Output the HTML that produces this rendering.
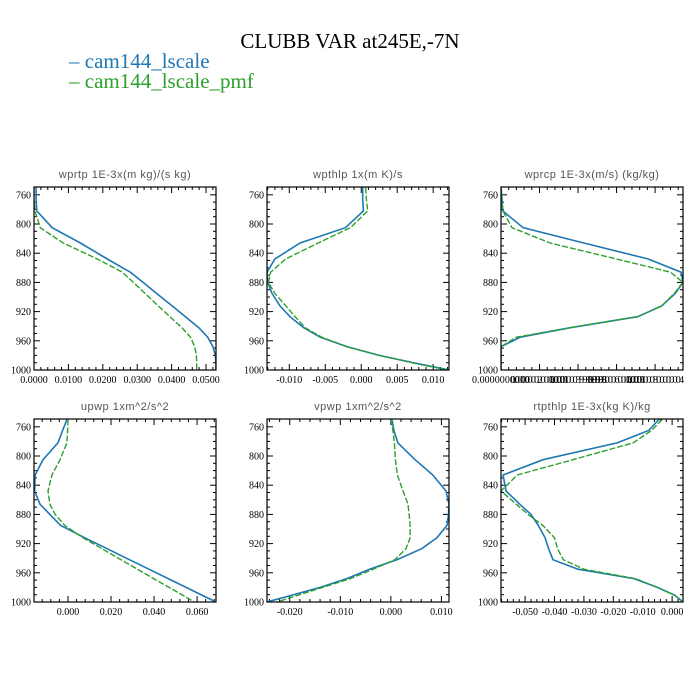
<!DOCTYPE html>
<html><head><meta charset="utf-8"><style>
body{margin:0;background:#fff;width:700px;height:700px;overflow:hidden}
svg{display:block}
.tl{font-family:"Liberation Sans",sans-serif;font-size:11px;fill:#555;letter-spacing:0.5px}
.tk{font-family:"Liberation Serif",serif;font-size:10px;fill:#000}
</style></head><body>
<svg id="chart" width="700" height="700" xmlns="http://www.w3.org/2000/svg">
<text x="350" y="48" text-anchor="middle" font-family="Liberation Serif,serif" font-size="21">CLUBB VAR at245E,-7N</text>
<g>
<g><text x="69" y="68" font-family="Liberation Serif,serif" font-size="21" fill="#1f77b4">– cam144_lscale</text></g>
<g><text x="69" y="88" font-family="Liberation Serif,serif" font-size="21" fill="#2ca02c">– cam144_lscale_pmf</text></g>
</g>
</svg>
<script>
const levels=[750,765,782,805,826,848,866,880,895,912,927,942,955,968,980,991,1000];
const yTicks=[760,800,840,880,920,960,1000];
const titles=["wprtp  1E-3x(m kg)/(s kg)","wpthlp  1x(m K)/s","wprcp  1E-3x(m/s) (kg/kg)","upwp  1xm^2/s^2","vpwp  1xm^2/s^2","rtpthlp  1E-3x(kg K)/kg"];
const wprtpBlue=[0.0006,0.0006,0.0008,0.0053,0.0135,0.0213,0.0280,0.0317,0.0356,0.0401,0.0440,0.0479,0.0505,0.0520,0.0527,0.0529,0.0529];
const wprtpGreen=[0.0,0.0,0.0003,0.0018,0.0085,0.0184,0.0257,0.0289,0.0323,0.0361,0.0395,0.0430,0.0455,0.0467,0.0472,0.0473,0.0473];
const wpthlpBlue=[0.0002,0.0002,0.0003,-0.0022,-0.0085,-0.0120,-0.0131,-0.0130,-0.0124,-0.0113,-0.0099,-0.0080,-0.0057,-0.0020,0.0025,0.0077,0.0122];
const wpthlpGreen=[0.0006,0.0007,0.0009,-0.0015,-0.0060,-0.0105,-0.0126,-0.0129,-0.0120,-0.0105,-0.0092,-0.0078,-0.0055,-0.0020,0.0025,0.0075,0.0120];
const wprcpBlue=[0,0.05e-8,0.09e-8,1.15e-8,4.3e-8,7.65e-8,9.35e-8,9.45e-8,9.05e-8,8.35e-8,7.1e-8,3.6e-8,1.0e-8,0,0,0,0];
const wprcpGreen=[0,0.03e-8,0.1e-8,0.57e-8,2.55e-8,6.0e-8,8.8e-8,9.45e-8,9.0e-8,8.35e-8,7.1e-8,3.6e-8,0.8e-8,0,0,0,0];
const upwpBlue=[-0.0005,-0.0025,-0.0047,-0.0116,-0.0153,-0.0155,-0.0130,-0.0084,-0.0035,0.0078,0.0182,0.0286,0.0376,0.0466,0.0549,0.0625,0.0688];
const upwpGreen=[0.0,-0.0002,-0.0005,-0.0037,-0.0075,-0.0093,-0.0084,-0.0060,-0.0015,0.0070,0.0158,0.0246,0.0322,0.0398,0.0470,0.0535,0.0586];
const vpwpBlue=[0.0002,0.0006,0.0014,0.0048,0.0083,0.0109,0.0115,0.0114,0.0111,0.0091,0.0061,0.0012,-0.0042,-0.0087,-0.0140,-0.0197,-0.0245];
const vpwpGreen=[0.0,0.0004,0.0007,0.0009,0.0013,0.0024,0.0034,0.0036,0.0038,0.0038,0.0030,0.0008,-0.0035,-0.0080,-0.0135,-0.0185,-0.0225];
const rtBlue=[-0.0045,-0.0080,-0.0187,-0.0439,-0.0575,-0.0565,-0.0518,-0.0480,-0.0455,-0.0432,-0.0420,-0.0405,-0.0320,-0.0130,-0.0050,0.0010,0.0037];
const rtGreen=[-0.0034,-0.0070,-0.0133,-0.0337,-0.0527,-0.0582,-0.0530,-0.0490,-0.0440,-0.0400,-0.0390,-0.0370,-0.0300,-0.0125,-0.0050,0.0010,0.0037];
const xTicks1=[0,0.01,0.02,0.03,0.04,0.05];
const xLabels1=["0.0000","0.0100","0.0200","0.0300","0.0400","0.0500"];
const xTicks2=[-0.010,-0.005,0,0.005,0.010];
const xLabels2=["-0.010","-0.005","0.000","0.005","0.010"];
const xTicks3=[0,2e-8,4e-8,6e-8,8e-8];
const xLabels3=["0.0000000000","0.0000000200000001","0.0000000399999998","0.0000000600000001","0.0000000800000004"];
const xTicks4=[0,0.02,0.04,0.06];
const xLabels4=["0.000","0.020","0.040","0.060"];
const xTicks5=[-0.02,-0.01,0,0.01];
const xLabels5=["-0.020","-0.010","0.000","0.010"];
const xTicks6=[-0.05,-0.04,-0.03,-0.02,-0.01,0];
const xLabels6=["-0.050","-0.040","-0.030","-0.020","-0.010","0.000"];

const NS="http://www.w3.org/2000/svg";
const svg=document.getElementById('chart');
function mk(tag,attrs,parent){const e=document.createElementNS(NS,tag);for(const k in attrs)e.setAttribute(k,attrs[k]);parent.appendChild(e);return e;}
const panels=[
 {name:'wprtp',x0:34,y0:187,xd:[0,0.0529],blue:wprtpBlue,green:wprtpGreen,xt:xTicks1,xl:xLabels1,t:titles[0]},
 {name:'wpthlp',x0:267,y0:187,xd:[-0.0131,0.0122],blue:wpthlpBlue,green:wpthlpGreen,xt:xTicks2,xl:xLabels2,t:titles[1]},
 {name:'wprcp',x0:501,y0:187,xd:[0,9.45e-8],blue:wprcpBlue,green:wprcpGreen,xt:xTicks3,xl:xLabels3,t:titles[2],small:true},
 {name:'upwp',x0:34,y0:419,xd:[-0.0158,0.0688],blue:upwpBlue,green:upwpGreen,xt:xTicks4,xl:xLabels4,t:titles[3]},
 {name:'vpwp',x0:267,y0:419,xd:[-0.0245,0.0115],blue:vpwpBlue,green:vpwpGreen,xt:xTicks5,xl:xLabels5,t:titles[4]},
 {name:'rtpthlp',x0:501,y0:419,xd:[-0.0582,0.0037],blue:rtBlue,green:rtGreen,xt:xTicks6,xl:xLabels6,t:titles[5]}
];
const W=182,H=183,P0=749.3,P1=1000;
panels.forEach(p=>{
 const g=mk('g',{},svg);
 
 
 const xs=v=>p.x0+(v-p.xd[0])/(p.xd[1]-p.xd[0])*W;
 const ys=v=>p.y0+(v-P0)/(P1-P0)*H;
 const t=mk('text',{x:p.x0+W/2,y:p.y0-9,'text-anchor':'middle',class:'tl'},g);
 t.textContent=p.t;
 
 
 // ticks
 for(let v=760;v<=1000;v+=10){
  const y=ys(v);const L=(v%40===0)?6:3;
  mk('line',{x1:p.x0,x2:p.x0+L,y1:y,y2:y,stroke:'#000','stroke-width':1},g);
  mk('line',{x1:p.x0+W,x2:p.x0+W-L,y1:y,y2:y,stroke:'#000','stroke-width':1},g);
 }
 yTicks.forEach(v=>{
  const tx=mk('text',{x:p.x0-3,y:ys(v)+3.5,'text-anchor':'end',class:'tk'},g);
  tx.textContent=String(v);
  
  
 });
 const step=p.xt[1]-p.xt[0];
 for(let i=-10;i<60;i++){
  const v=p.xt[0]+i*step/5;
  if(v<p.xd[0]-1e-12||v>p.xd[1]+1e-12)continue;
  const x=xs(v);const L=(i%5===0)?6:3;
  mk('line',{x1:x,x2:x,y1:p.y0,y2:p.y0+L,stroke:'#000','stroke-width':1},g);
  mk('line',{x1:x,x2:x,y1:p.y0+H,y2:p.y0+H-L,stroke:'#000','stroke-width':1},g);
 }
 p.xt.forEach((v,i)=>{
  const tx=mk('text',{x:xs(v),y:p.y0+H+13,'text-anchor':'middle',class:'tk'},g);
  if(p.small){tx.setAttribute('font-size','9');tx.setAttribute('textLength','58');}
  tx.textContent=p.xl[i];
  
  
 });
 const pts=a=>a.map((v,i)=>xs(v).toFixed(1)+','+ys(levels[i]).toFixed(1)).join(' ');
 const cl='clip-'+p.name;
 const cp=mk('clipPath',{id:cl},g);mk('rect',{x:p.x0,y:p.y0,width:W,height:H},cp);
 const bl=mk('polyline',{points:pts(p.blue),fill:'none',stroke:'#1f77b4','stroke-width':1.6,'clip-path':'url(#'+cl+')'},g);
 
 
 const gl=mk('polyline',{points:pts(p.green),fill:'none',stroke:'#2ca02c','stroke-width':1.4,'stroke-dasharray':'6,2','clip-path':'url(#'+cl+')'},g);
 
 
 const fr=mk('rect',{x:p.x0,y:p.y0,width:W,height:H,fill:'none',stroke:'#000','stroke-width':1.2},g);
 
 
});
</script>
</body></html>
